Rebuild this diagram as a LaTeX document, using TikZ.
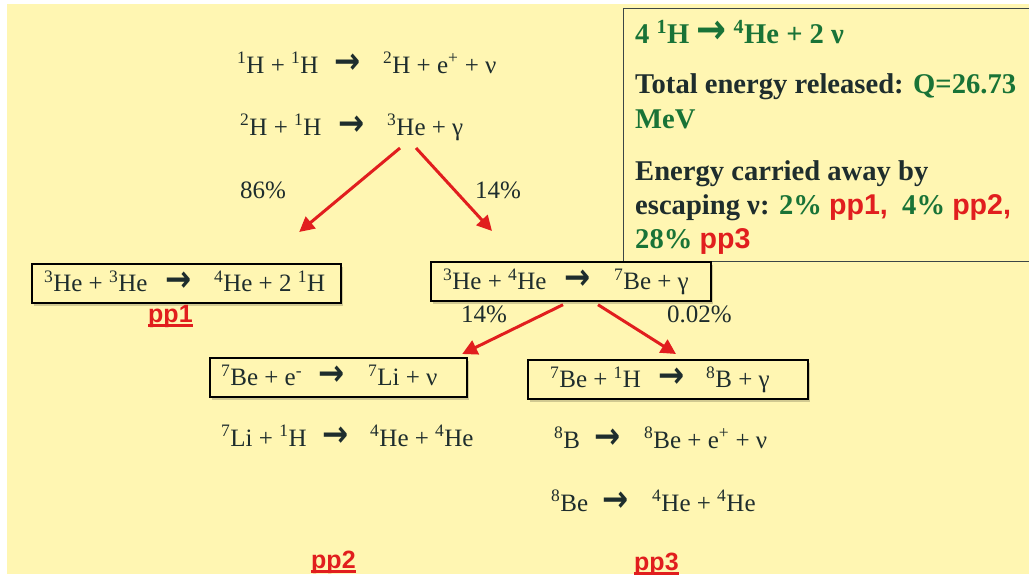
\documentclass[tikz,border=0pt]{standalone}
\usepackage{fontspec}
\usepackage{graphicx}
\setmainfont{Liberation Serif}
\setsansfont{Liberation Sans}
\newfontfamily\arrowfont{DejaVu Sans}
\usetikzlibrary{arrows.meta,shadows}
\definecolor{bgyellow}{RGB}{255,246,178}
\definecolor{txt}{RGB}{30,45,45}
\definecolor{grn}{RGB}{25,115,55}
\definecolor{rd}{RGB}{225,30,30}
\definecolor{frame}{RGB}{60,70,70}
\newcommand\iso[2]{\textsuperscript{#1}#2}
\newcommand\sups[1]{\textsuperscript{#1}}
\newcommand\arr{{\arrowfont\bfseries\scalebox{1.25}[1.45]{→}}}
\newcommand\eqn[4]{\makebox[#1pt][l]{#3}\makebox[#2pt][l]{\arr}#4}
\newcommand\undl[1]{\setbox0\hbox{#1}\rlap{\rule[-5pt]{\wd0}{2.6pt}}\box0}
\newcommand\ppl[1]{{\sffamily\bfseries\color{rd}#1}}
\begin{document}
\begin{tikzpicture}[x=1pt,y=-1pt,
  every node/.style={font=\fontsize{25}{30}\selectfont, text=txt},
  eq/.style={anchor=base west, inner sep=0pt},
  rbox/.style={draw=black, line width=2.2pt, fill=bgyellow, anchor=north west,
    inner ysep=10pt, text height=17.5pt, text depth=1pt,
    drop shadow={shadow xshift=2pt, shadow yshift=-3pt, opacity=0.18, fill=black}},
  redarrow/.style={draw=rd, line width=3pt, -{Triangle[length=15pt,width=15pt]}},
  info/.style={anchor=base west, inner sep=0pt, font=\fontsize{28.6}{34}\selectfont\bfseries},
  pplabel/.style={anchor=base west, inner sep=0pt, font=\fontsize{25}{30}\selectfont\sffamily\bfseries, text=rd}
]
\useasboundingbox (0,0) rectangle (1029,574);
\fill[white] (0,0) rectangle (1029,574);
\fill[bgyellow] (7,4) rectangle (1029,574);

% info box
\node[draw=frame, line width=1pt, fill=bgyellow, anchor=north west, minimum width=415pt, minimum height=253pt, inner sep=0pt] (info) at (623,8) {};
\node[info, text=grn] (i1) at (635,43) {4 \iso{1}{H} \arr{} \iso{4}{He} + 2 ν};
\node[info] (i2) at (635,93) {Total energy released: \textcolor{grn}{Q=26.73}};
\node[info, text=grn] (i3) at (635,128) {MeV};
\node[info] (i4) at (635,180) {Energy carried away by};
\node[info] (i5) at (635,214) {escaping ν: \textcolor{grn}{2\%} \ppl{pp1,}\ \ \textcolor{grn}{4\%} \ppl{pp2,}};
\node[info, text=grn] (i6) at (635,248) {28\% \ppl{pp3}};

% first steps
\node[eq] (L1) at (237,73) {\eqn{97}{49}{\iso{1}{H} + \iso{1}{H}}{\iso{2}{H} + e\sups{+} + ν}};
\node[eq] (L2) at (240,135) {\eqn{98}{49}{\iso{2}{H} + \iso{1}{H}}{\iso{3}{He} + γ}};

\node[eq] (p86) at (240,198) {86\%};
\node[eq] (p14a) at (475,198) {14\%};

% boxes
\node[rbox, inner xsep=12pt] (A) at (31,263)
  {\makebox[285pt][l]{\eqn{121}{49}{\iso{3}{He} + \iso{3}{He}}{\iso{4}{He} + 2 \iso{1}{H}}}};
\node[rbox, inner xsep=12pt] (B) at (430,261)
  {\makebox[256pt][l]{\eqn{121}{50}{\iso{3}{He} + \iso{4}{He}}{\iso{7}{Be} + γ}}};
\node[rbox, inner xsep=11pt] (C) at (209,357)
  {\makebox[235pt][l]{\eqn{97}{50}{\iso{7}{Be} + e\sups{-}}{\iso{7}{Li} + ν}}};
\node[rbox, inner xsep=22pt] (D) at (527,359)
  {\makebox[236pt][l]{\eqn{108}{48}{\iso{7}{Be} + \iso{1}{H}}{\iso{8}{B} + γ}}};

\node[pplabel] (pp1) at (148,322) {\undl{pp1}};
\node[eq] (p14b) at (461,322) {14\%};
\node[eq] (p002) at (667,322) {0.02\%};

% pp2 / pp3 chains
\node[eq] (Li) at (221,446) {\eqn{101}{48}{\iso{7}{Li} + \iso{1}{H}}{\iso{4}{He} + \iso{4}{He}}};
\node[eq] (B8) at (554,448) {\eqn{40}{50}{\iso{8}{B}}{\iso{8}{Be} + e\sups{+} + ν}};
\node[eq] (Be8) at (551,511) {\eqn{51}{50}{\iso{8}{Be}}{\iso{4}{He} + \iso{4}{He}}};

\node[pplabel] (pp2) at (311,568) {\undl{pp2}};
\node[pplabel] (pp3) at (634,570) {\undl{pp3}};

% connectors
\coordinate (s1) at ([xshift=160pt,yshift=-13pt]L2.base west);
\coordinate (s2) at ([xshift=176pt,yshift=-13pt]L2.base west);
\draw[redarrow] (s1) -- ([xshift=-43pt,yshift=31pt]A.north east);
\draw[redarrow] (s2) -- ([xshift=62pt,yshift=30pt]B.north west);
\draw[redarrow] ([xshift=133pt,yshift=-3pt]B.south west) -- ([xshift=-6pt,yshift=3pt]C.north east);
\draw[redarrow] ([xshift=168pt,yshift=-3pt]B.south west) -- ([xshift=149pt,yshift=5pt]D.north west);
\end{tikzpicture}
\end{document}
